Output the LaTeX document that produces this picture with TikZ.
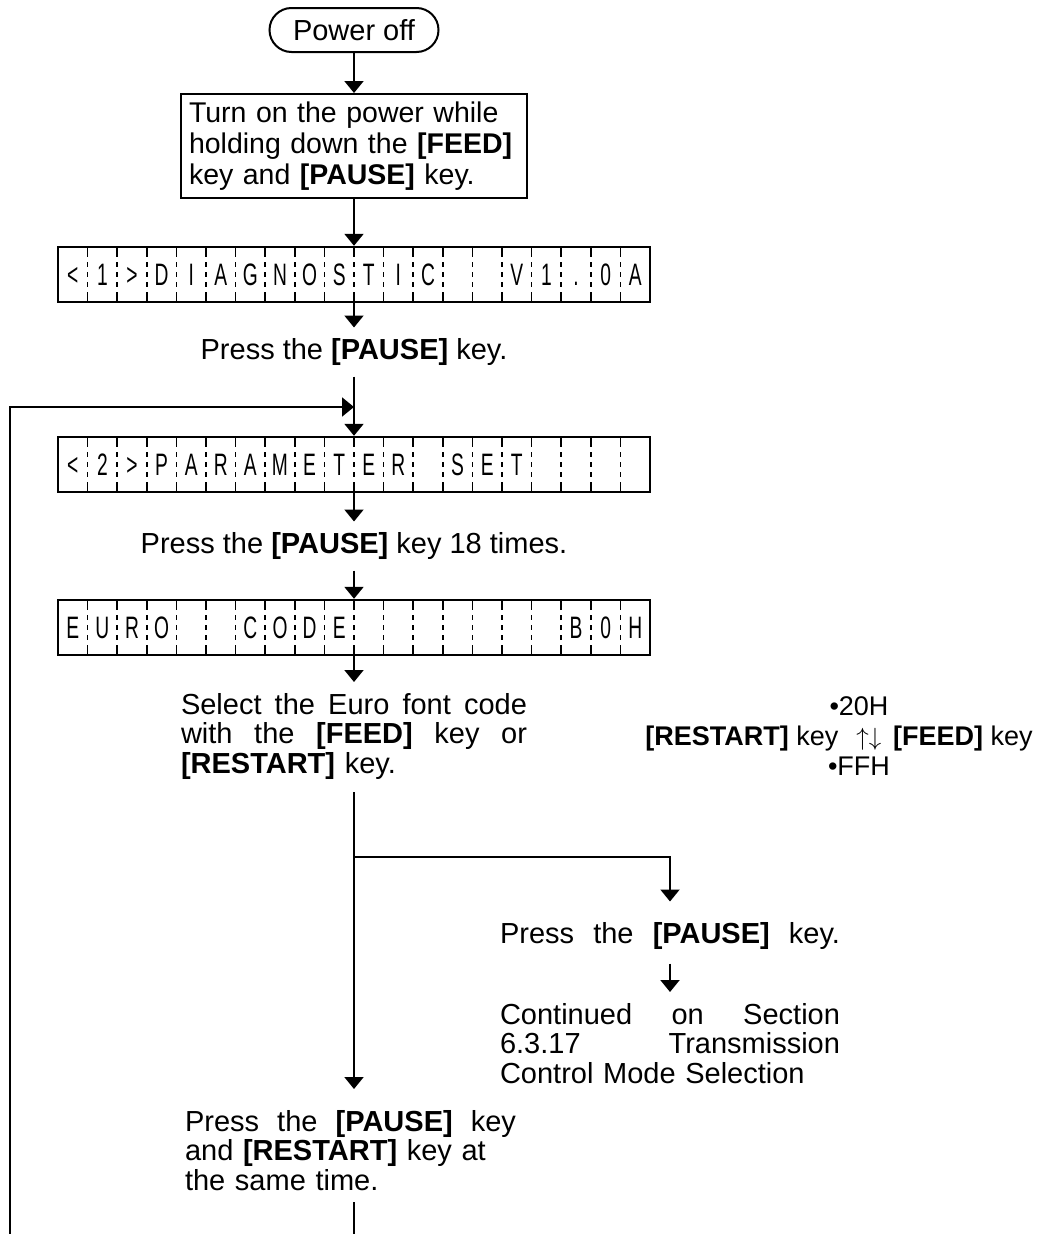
\documentclass[tikz,border=0pt]{standalone}
\usepackage{fontspec}
\setmainfont{Liberation Sans}
\newfontfamily\lcdfont[FakeStretch=0.62]{Liberation Sans}
\usetikzlibrary{arrows.meta}
\newcommand\mainfs{\fontsize{29pt}{29.5pt}\selectfont}
\newcommand\sidefs{\fontsize{27pt}{30pt}\selectfont}
\newcommand\boxfs{\fontsize{28.5pt}{31pt}\selectfont}
\newcommand\lcdfs{\lcdfont\fontsize{31pt}{31pt}\selectfont}
\newcommand\just[2]{\makebox[#1][s]{\spaceskip=0pt\xspaceskip=0pt\relax #2}}
\newcommand\lcdrow[3]{%
  \node[lcdframe] (#1) at (354,#2) {};
  \foreach \k in {1,...,19}
    \draw[lcdsep] (58+29.6*\k,#2-27.5) -- (58+29.6*\k,#2+27.5);
  \foreach \ch [count=\i] in {#3}
    \node[lcdchar] (#1c\i) at (58+29.6*\i-14.8,#2+11) {\ch};
}
\begin{document}
\begin{tikzpicture}[x=1pt,y=-1pt,line width=2pt,
  arr/.style={-{Triangle[width=19pt,length=12pt]}},
  txt/.style={font=\mainfs,inner sep=0pt},
  one/.style={txt,text height=21pt,text depth=6pt},
  lcdframe/.style={draw,line width=2.4pt,minimum width=592pt,minimum height=55pt,inner sep=0pt},
  lcdsep/.style={line width=1.5pt,dash pattern=on 10pt off 5pt on 5pt off 5pt on 5pt off 5pt on 5pt off 5pt on 10pt off 100pt},
  lcdchar/.style={font=\lcdfs,inner sep=0pt,anchor=base}]
\useasboundingbox[fill=white] (0,0) rectangle (1042,1234);

% top
\node[draw,txt,rounded corners=22pt,minimum width=169pt,minimum height=44pt] (off) at (354,30) {Power off};
\node[draw,txt,font=\boxfs,text width=330pt,inner xsep=8pt,minimum height=104pt,align=left] (box) at (354,146)
  {Turn on the power while\\holding down the \textbf{[FEED]}\\key and \textbf{[PAUSE]} key.};

\lcdrow{lcd1}{274.5}{<,1,>,D,I,A,G,N,O,S,T,I,C,{},{},V,1,.,0,A}
\node[one] (t1) at (354,352) {Press the \textbf{[PAUSE]} key.};
\lcdrow{lcd2}{464.5}{<,2,>,P,A,R,A,M,E,T,E,R,{},S,E,T,{},{},{},{}}
\node[one] (t2) at (354,546) {Press the \textbf{[PAUSE]} key 18 times.};
\lcdrow{lcd3}{627.5}{E,U,R,O,{},{},C,O,D,E,{},{},{},{},{},{},{},B,0,H}

\node[txt,anchor=north,text width=346pt,align=left] (sel) at (354,692)
  {\just{346pt}{Select the Euro font code}\\\just{346pt}{with the \textbf{[FEED]} key or}\\\textbf{[RESTART]} key.};

% right note
\node[one,font=\sidefs] (r1) at (859,708) {•20H};
\node[one,font=\sidefs] (r2) at (839,738) {\textbf{[RESTART]} key\hspace{18pt}$\uparrow\downarrow$\hspace{12pt}\textbf{[FEED]} key};
\node[one,font=\sidefs] (r3) at (859,768) {•FFH};

% branches
\node[one] (pr) at (670,936) {\just{340pt}{Press the \textbf{[PAUSE]} key.}};
\node[txt,anchor=north,text width=340pt,align=left] (cont) at (670,1002)
  {\just{340pt}{Continued on Section}\\\just{340pt}{6.3.17 Transmission}\\Control Mode Selection};
\node[txt,anchor=north,text width=331pt,align=left] (pb) at (350.5,1109)
  {\just{331pt}{Press the \textbf{[PAUSE]} key}\\and \textbf{[RESTART]} key at\\the same time.};

\coordinate (jn) at (354,407);
\coordinate (lb) at (10,1234);
\coordinate (br) at (354,857);
\coordinate (bot) at (354,1234);

% connectors
\draw[arr] (off.south) -- (box.north);
\draw[arr] (box.south) -- (lcd1.north);
\draw[arr,shorten >=10pt] (lcd1.south) -- (t1.north);
\draw[arr,shorten <=10pt] (t1.south) -- (lcd2.north);
\draw[arr] (lb) |- (jn);
\draw[arr,shorten >=10pt] (lcd2.south) -- (t2.north);
\draw[arr,shorten <=10pt] (t2.south) -- (lcd3.north);
\draw[arr,shorten >=10pt] (lcd3.south) -- (sel.north);
\draw[arr,shorten <=12pt,shorten >=20pt] (sel.south) -- (sel.south |- pb.north);
\draw[arr,shorten >=20pt] (br) -| (pr.north);
\draw[arr,shorten <=13pt,shorten >=10pt] (pr.south) -- (cont.north);
\draw[shorten <=11pt] (pb.south -| bot) -- (bot);
\end{tikzpicture}
\end{document}
